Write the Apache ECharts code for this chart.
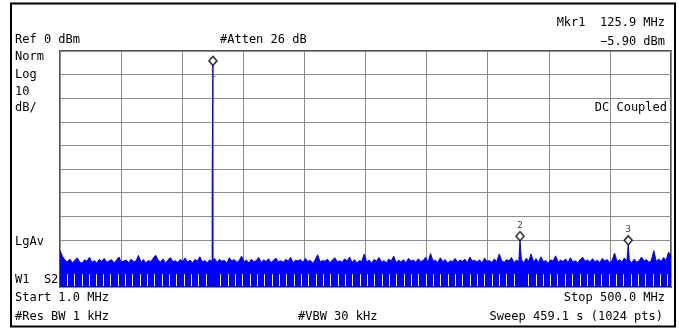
<!DOCTYPE html>
<html>
<head>
<meta charset="utf-8">
<script src="https://cdn.jsdelivr.net/npm/echarts@6/dist/echarts.min.js"></script>
<style>
  html, body { margin: 0; padding: 0; background: #fff; }
  #chart { width: 679px; height: 330px; }
</style>
</head>
<body>
<div id="chart"></div>
<script>
// Sweep settings
const startMHz = 1.0;
const stopMHz = 500.0;
const refLevel = 0;      // dBm, top of screen
const bottomLevel = -100; // 10 dB/div, 10 divisions

// Noise floor trace (dBm), evenly spaced from start to stop
const noiseFloor = [
  -84.5, -87.0, -88.6, -89.3, -88.2, -89.7, -88.9, -87.6, -89.4, -89.9,
  -88.5, -89.1, -87.4, -89.6, -88.8, -89.9, -88.3, -89.2, -87.9, -89.5,
  -89.0, -88.4, -89.8, -88.7, -87.3, -89.4, -89.0, -88.6, -89.7, -88.2,
  -89.3, -88.9, -86.6, -89.5, -88.4, -89.8, -88.8, -89.2, -87.8, -86.5,
  -88.7, -89.4, -88.1, -89.9, -88.6, -87.5, -89.3, -88.9, -89.6, -88.3,
  -89.1, -87.7, -89.5, -88.6, -89.8, -88.4, -89.0, -87.2, -89.4, -88.8,
  -89.7, -88.5, -89.2, -87.9, -89.6, -88.3, -89.1, -88.7, -89.9, -87.6,
  -89.0, -88.4, -89.5, -88.9, -86.9, -89.3, -88.6, -89.8, -88.2, -89.4,
  -88.8, -87.5, -89.6, -88.5, -89.2, -88.0, -89.7, -88.7, -87.8, -89.3,
  -88.9, -89.5, -88.3, -89.1, -87.4, -89.8, -88.6, -89.0, -88.4, -89.6,
  -87.9, -89.2, -88.7, -89.9, -88.5, -86.3, -89.4, -88.8, -89.1, -88.2,
  -89.7, -88.6, -87.6, -89.3, -88.9, -89.5, -88.1, -89.0, -87.3, -89.6,
  -88.4, -89.8, -88.8, -89.2, -86.0, -89.5, -88.6, -89.9, -88.3, -89.1,
  -87.5, -89.4, -88.9, -89.7, -88.2, -89.0, -86.9, -89.6, -88.7, -89.3,
  -88.5, -89.8, -87.8, -89.1, -88.6, -89.5, -88.0, -89.2, -88.8, -87.4,
  -89.6, -85.8, -89.0, -88.7, -89.7, -87.6, -89.3, -88.4, -89.9, -88.9,
  -89.2, -87.9, -89.5, -88.6, -89.1, -88.2, -89.8, -87.3, -89.0, -88.7,
  -89.4, -88.5, -89.9, -87.7, -89.2, -88.8, -89.6, -88.1, -89.3, -86.0,
  -88.9, -89.5, -88.4, -89.0, -87.5, -89.7, -88.6, -89.2, -88.3, -89.8,
  -87.8, -89.1, -86.0, -89.4, -88.0, -89.6, -87.2, -89.3, -88.8, -89.9,
  -88.5, -89.0, -86.8, -89.5, -88.6, -89.2, -88.1, -89.7, -87.6, -89.4,
  -88.9, -89.8, -88.3, -87.4, -89.1, -88.6, -89.5, -88.0, -89.3, -88.7,
  -89.6, -87.9, -89.0, -88.4, -89.7, -88.8, -85.6, -89.2, -88.5, -89.4,
  -87.7, -89.1, -88.6, -89.8, -88.2, -89.5, -88.9, -87.3, -89.0, -88.4,
  -89.6, -88.7, -84.6, -89.3, -88.1, -89.2, -87.5, -88.8, -85.2, -87.0
];

// Signal points on the trace [MHz, dBm]
const signalPoints = [
  [125.28, -53.0], [125.8, -53.0], [125.9, -5.9], [126.0, -89.0],
  [376.7, -80.2],
  [465.1, -81.9]
];

// Markers [MHz, dBm]
const markerNames = ['1', '2', '3'];
const markerFreqs = [125.9, 376.7, 465.1];
const markerLevels = [-5.9, -80.2, -81.9];

// Display columns where the filled trace shows gaps near the floor
const gapFreqs = [
  6.5, 12.4, 18.6, 24.3, 30.4, 36.5, 42.2, 48.3, 54.4, 60.1,
  66.3, 72.4, 78.1, 84.2, 90.3, 96.0, 102.2, 108.3, 114.0, 120.1,
  132.0, 138.1, 144.2, 149.9, 156.0, 162.1, 167.9, 174.0, 180.1, 185.8,
  191.9, 198.0, 203.8, 209.9, 216.0, 221.7, 227.8, 233.9, 239.7, 245.8,
  251.9, 257.6, 263.7, 269.8, 275.6, 281.7, 287.8, 293.5, 299.6, 305.7,
  311.5, 317.6, 323.7, 329.4, 335.5, 341.6, 347.4, 353.5, 359.6, 365.3,
  371.4, 383.3, 389.4, 395.5, 401.2, 407.3, 413.4, 419.2, 425.3, 431.4,
  437.1, 443.2, 449.3, 455.1, 461.2, 467.3, 473.0, 479.1, 485.2, 491.0, 497.1
];

// Build the trace from floor bins plus signal points
const binStep = (stopMHz - startMHz) / (noiseFloor.length - 1);
const trace = noiseFloor.map((v, i) => [startMHz + i * binStep, v])
  .concat(signalPoints)
  .sort((a, b) => a[0] - b[0]);

const FONT = '"DejaVu Sans Mono", "Liberation Mono", monospace';
function txt(x, y, s, align) {
  return {
    type: 'text', x: x, y: y, z: 10,
    style: {
      text: s, fill: '#000', font: '12px ' + FONT,
      textAlign: align || 'left', textVerticalAlign: 'middle'
    }
  };
}

const chart = echarts.init(document.getElementById('chart'), null, { renderer: 'canvas' });
chart.setOption({
  animation: false,
  backgroundColor: '#fff',
  grid: {
    left: 60, right: 8, top: 51, bottom: 43,
    show: true, borderColor: '#555', borderWidth: 2, backgroundColor: 'transparent'
  },
  xAxis: [
    { type: 'value', min: startMHz, max: stopMHz, show: false },
    {
      type: 'value', min: 0, max: 10, interval: 1, position: 'bottom',
      axisLine: { show: false }, axisTick: { show: false }, axisLabel: { show: false },
      splitLine: { show: true, lineStyle: { color: '#8c8c8c', width: 1 } }
    }
  ],
  yAxis: {
    type: 'value', min: bottomLevel, max: refLevel, interval: 10,
    axisLine: { show: false }, axisTick: { show: false }, axisLabel: { show: false },
    splitLine: { show: true, lineStyle: { color: '#8c8c8c', width: 1 } }
  },
  series: [
    {
      type: 'line', xAxisIndex: 0, data: trace, symbol: 'none',
      lineStyle: { color: '#0000ff', width: 1 },
      areaStyle: { color: '#0000ff', opacity: 1, origin: 'start' },
      z: 3
    },
    {
      type: 'custom', xAxisIndex: 0, z: 4,
      data: gapFreqs.map(f => [f, -99.6, -94.6]),
      renderItem: function (params, api) {
        const a = api.coord([api.value(0), api.value(1)]);
        const b = api.coord([api.value(0), api.value(2)]);
        const x = Math.round(a[0]) + 0.5;
        return { type: 'line', shape: { x1: x, y1: a[1], x2: x, y2: b[1] }, style: { stroke: '#ffffff', lineWidth: 1 } };
      }
    },
    {
      type: 'scatter', xAxisIndex: 0, z: 6,
      data: markerFreqs.map((f, i) => ({
        value: [f, markerLevels[i]],
        label: i > 0
          ? { show: true, formatter: markerNames[i], position: 'top', distance: 1,
              color: '#000', fontSize: 9, fontFamily: FONT }
          : { show: true, formatter: markerNames[i], position: 'bottom', distance: 3,
              color: '#666', fontSize: 10, fontFamily: FONT }
      })),
      symbol: 'diamond', symbolSize: [8, 9], symbolOffset: [0, -4],
      itemStyle: { color: '#fff', borderColor: '#000', borderWidth: 1.6 },
      labelLayout: { hideOverlap: false }
    }
  ],
  graphic: [
    {
      type: 'rect', z: 10, silent: true,
      shape: { x: 11, y: 3.5, width: 664, height: 323 },
      style: { fill: 'none', stroke: '#000', lineWidth: 2 }
    },
    txt(15, 40, 'Ref 0 dBm'),
    txt(220, 40, '#Atten 26 dB'),
    txt(665, 23, 'Mkr1  125.9 MHz', 'right'),
    txt(665, 42, '\u22125.90 dBm', 'right'),
    txt(15, 57, 'Norm'),
    txt(15, 75, 'Log'),
    txt(15, 92, '10'),
    txt(15, 108, 'dB/'),
    txt(667, 108, 'DC Coupled', 'right'),
    txt(15, 242, 'LgAv'),
    txt(15, 280, 'W1  S2'),
    txt(15, 298, 'Start 1.0 MHz'),
    txt(665, 298, 'Stop 500.0 MHz', 'right'),
    txt(15, 317, '#Res BW 1 kHz'),
    txt(298, 317, '#VBW 30 kHz'),
    txt(663, 317, 'Sweep 459.1 s (1024 pts)', 'right')
  ]
});
</script>
</body>
</html>
